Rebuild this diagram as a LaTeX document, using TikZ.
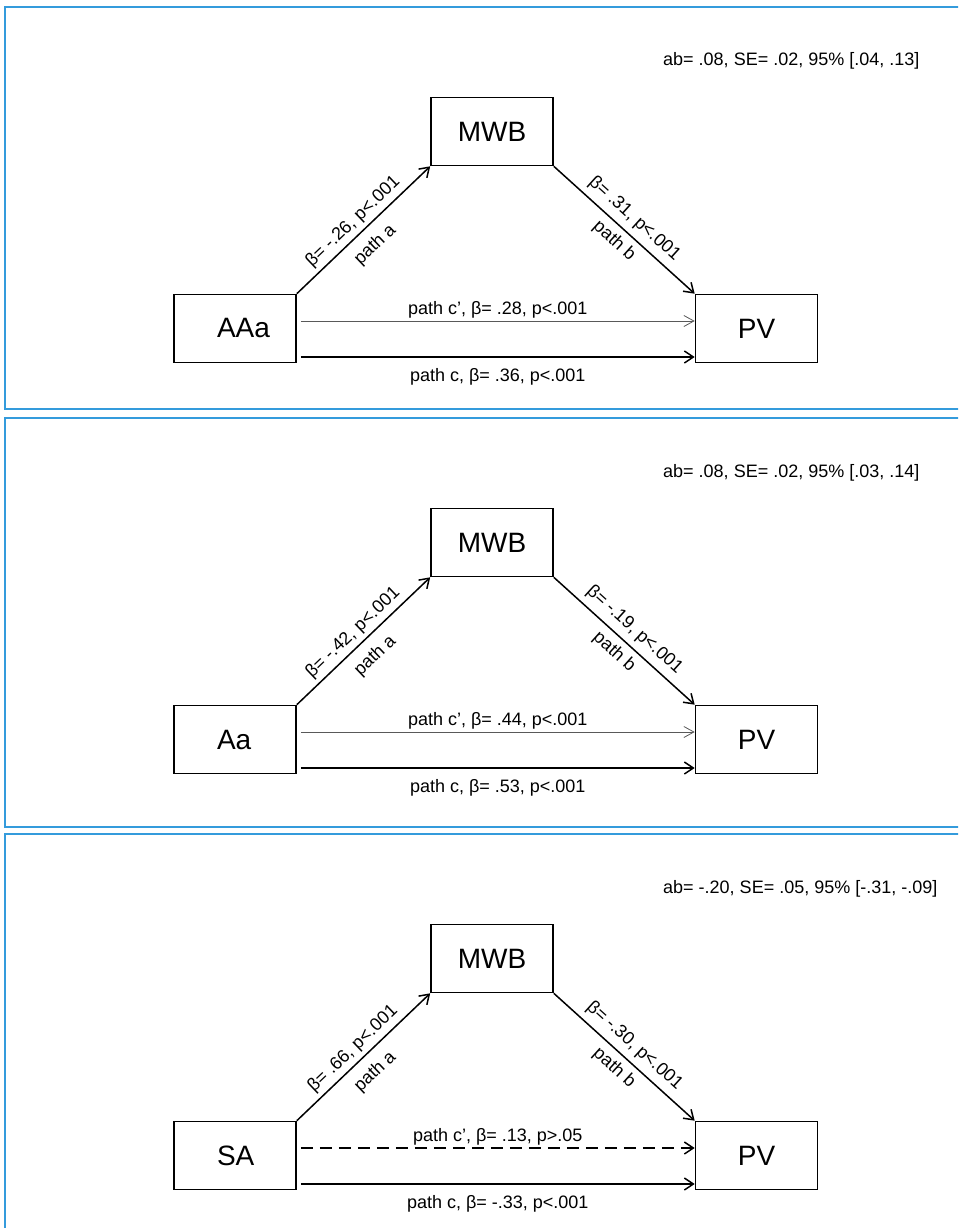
\documentclass[tikz,border=0pt]{standalone}
\usepackage{fontspec}
\setmainfont{Liberation Sans}
\usetikzlibrary{arrows.meta}
\definecolor{panelblue}{RGB}{52,155,220}
\begin{document}
\begin{tikzpicture}[x=1pt, y=-1pt,
		box/.style={draw=black, line width=1.6pt, minimum width=122pt, minimum height=68pt, inner sep=0pt, font=\fontsize{28}{32}\selectfont},
		pred/.style={box, text width=36pt, inner xsep=43pt, align=left},
		lbl/.style={font=\fontsize{18}{20}\selectfont, inner sep=2pt},
		arr/.style={line width=1.5pt, -{Straight Barb[length=9pt, width=12pt]}},
		thin arr/.style={line width=0.8pt, draw=black!65, -{Straight Barb[length=10pt, width=11pt]}},
		dash arr/.style={arr, dash pattern=on 12pt off 7pt},
		frame/.style={draw=panelblue, line width=2pt}]
	\clip (0,0) rectangle (958,1228);
	\fill [white] (0,0) rectangle (958,1228);
	% Panel frames
	\foreach \t/\b in {7/409, 418/827, 834/1250}
		\draw [frame] (5,\t) rectangle (990,\b);
	% First panel
	\node [pred] (node-1-1) at (235,328.5) {AAa};
	\node [box] (node-1-2) at (492,131.5) {MWB};
	\node [box] (node-1-3) at (756.5,328.5) {PV};
	\node [lbl, anchor=base west] (ab-1) at (661,66) {ab= .08, SE= .02, 95\% [.04, .13]};
	\draw [arr] (node-1-1.north east) -- node [lbl, sloped, above=2pt, pos=0.49] {β= -.26, p<.001} node [lbl, sloped, below=8pt, pos=0.49] {path a} (node-1-2.south west);
	\draw [arr] (node-1-2.south east) -- node [lbl, sloped, above=4pt, pos=0.5] {β= .31, p<.001} node [lbl, sloped, below=4pt, pos=0.5] {path b} (node-1-3.north west);
	\draw [thin arr] ([shift={(4,-7.5)}]node-1-1.east) -- node [lbl, above] {path c’, β= .28, p<.001} ([shift={(0,-7.5)}]node-1-3.west);
	\draw [arr] ([shift={(4,28.5)}]node-1-1.east) -- node [lbl, below=9pt] {path c, β= .36, p<.001} ([shift={(0,28.5)}]node-1-3.west);
	% Second panel
	\begin{scope}[yshift=-411pt]
		\node [pred] (node-2-1) at (235,328.5) {Aa};
		\node [box] (node-2-2) at (492,131.5) {MWB};
		\node [box] (node-2-3) at (756.5,328.5) {PV};
		\node [lbl, anchor=base west] (ab-2) at (661,66) {ab= .08, SE= .02, 95\% [.03, .14]};
		\draw [arr] (node-2-1.north east) -- node [lbl, sloped, above=2pt, pos=0.49] {β= -.42, p<.001} node [lbl, sloped, below=8pt, pos=0.49] {path a} (node-2-2.south west);
		\draw [arr] (node-2-2.south east) -- node [lbl, sloped, above=4pt, pos=0.5] {β= -.19, p<.001} node [lbl, sloped, below=4pt, pos=0.5] {path b} (node-2-3.north west);
		\draw [thin arr] ([shift={(4,-7.5)}]node-2-1.east) -- node [lbl, above] {path c’, β= .44, p<.001} ([shift={(0,-7.5)}]node-2-3.west);
		\draw [arr] ([shift={(4,28.5)}]node-2-1.east) -- node [lbl, below=9pt] {path c, β= .53, p<.001} ([shift={(0,28.5)}]node-2-3.west);
	\end{scope}
	% Third panel
	\begin{scope}[yshift=-827pt]
		\node [pred] (node-3-1) at (235,328.5) {SA};
		\node [box] (node-3-2) at (492,131.5) {MWB};
		\node [box] (node-3-3) at (756.5,328.5) {PV};
		\node [lbl, anchor=base west] (ab-3) at (661,66) {ab= -.20, SE= .05, 95\% [-.31, -.09]};
		\draw [arr] (node-3-1.north east) -- node [lbl, sloped, above=2pt, pos=0.49] {β= .66, p<.001} node [lbl, sloped, below=8pt, pos=0.49] {path a} (node-3-2.south west);
		\draw [arr] (node-3-2.south east) -- node [lbl, sloped, above=4pt, pos=0.5] {β= -.30, p<.001} node [lbl, sloped, below=4pt, pos=0.5] {path b} (node-3-3.north west);
		\draw [dash arr] ([shift={(4,-7.5)}]node-3-1.east) -- node [lbl, above] {path c’, β= .13, p>.05} ([shift={(0,-7.5)}]node-3-3.west);
		\draw [arr] ([shift={(4,28.5)}]node-3-1.east) -- node [lbl, below=9pt] {path c, β= -.33, p<.001} ([shift={(0,28.5)}]node-3-3.west);
	\end{scope}
\end{tikzpicture}
\end{document}
